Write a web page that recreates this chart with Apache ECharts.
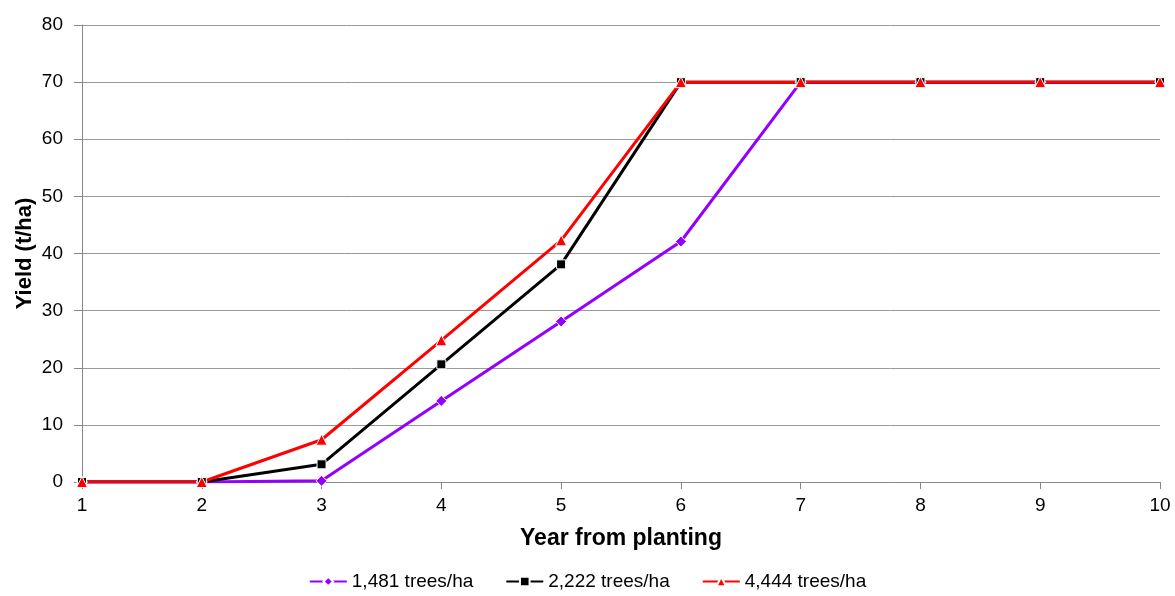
<!DOCTYPE html>
<html>
<head>
<meta charset="utf-8">
<script src="https://cdn.jsdelivr.net/npm/echarts@6/dist/echarts.min.js"></script>
<style>html,body{margin:0;padding:0;background:#fff}#c{width:1175px;height:596px}</style>
</head>
<body>
<div id="c"></div>
<script>
const years = [1, 2, 3, 4, 5, 6, 7, 8, 9, 10];
const s1481 = [0, 0, 0.2, 14.2, 28.1, 42.1, 70, 70, 70, 70];
const s2222 = [0, 0, 3.1, 20.6, 38.1, 70, 70, 70, 70, 70];
const s4444 = [0, 0, 7.4, 24.8, 42.3, 70, 70, 70, 70, 70];
const names = ['1,481 trees/ha', '2,222 trees/ha', '4,444 trees/ha'];

const font = 'Liberation Sans, Arial, sans-serif';
function pairs(v) { return years.map((x, i) => [x, v[i]]); }
function mk(name, data, color, symbol, size) {
  return {
    name, type: 'line', data: pairs(data), symbol, symbolSize: size,
    lineStyle: { color, width: 3 },
    itemStyle: { color, borderColor: '#fff', borderWidth: 1 },
    emphasis: { disabled: true }, animation: false
  };
}
const chart = echarts.init(document.getElementById('c'));
chart.setOption({
  backgroundColor: '#fff',
  textStyle: { fontFamily: font },
  grid: { left: 82, right: 15, top: 25, bottom: 114 },
  legend: {
    bottom: 0, left: 'center', itemWidth: 37, itemHeight: 12, itemGap: 32,
    textStyle: { fontFamily: font, fontSize: 19, color: '#000' },
    data: names
  },
  xAxis: {
    type: 'value', min: 1, max: 10, interval: 1,
    name: 'Year from planting', nameLocation: 'middle', nameGap: 45,
    nameTextStyle: { fontFamily: font, fontSize: 23, fontWeight: 'bold', color: '#000' },
    axisLine: { show: true, lineStyle: { color: '#888', width: 1 } },
    axisTick: { show: true, length: 7, lineStyle: { color: '#888' } },
    axisLabel: { fontFamily: font, fontSize: 19, color: '#000', margin: 14 },
    splitLine: { show: false }
  },
  yAxis: {
    type: 'value', min: 0, max: 80, interval: 10,
    name: 'Yield (t/ha)', nameLocation: 'middle', nameGap: 46, nameMoveOverlap: false,
    nameTextStyle: { fontFamily: font, fontSize: 22, fontWeight: 'bold', color: '#000' },
    axisLine: { show: true, lineStyle: { color: '#888', width: 1 } },
    axisTick: { show: true, length: 8, lineStyle: { color: '#888' } },
    axisLabel: { fontFamily: font, fontSize: 19, color: '#000', margin: 19 },
    splitLine: { show: true, lineStyle: { color: '#999', width: 1 } }
  },
  series: [
    mk(names[0], s1481, '#9400FF', 'diamond', 11),
    mk(names[1], s2222, '#000000', 'rect', 9),
    mk(names[2], s4444, '#FF0000', 'triangle', 11)
  ]
});
</script>
</body>
</html>
